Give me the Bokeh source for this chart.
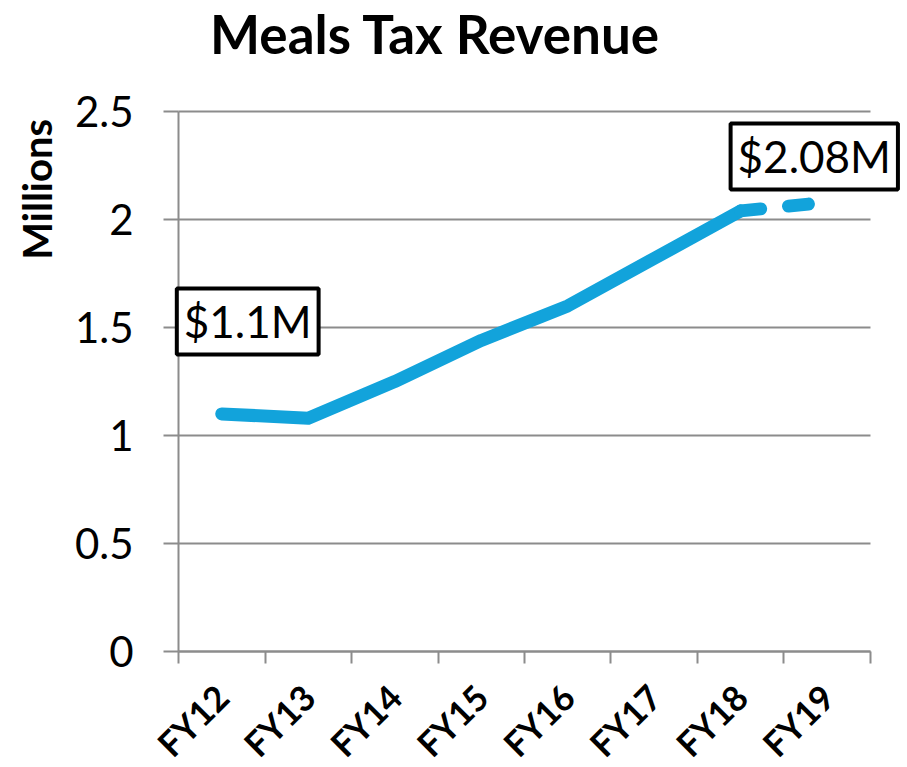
import math
from bokeh.plotting import figure
from bokeh.models import Range1d, FixedTicker, Label, ColumnDataSource
from bokeh.embed import file_html
from bokeh.resources import INLINE

categories = ["FY12", "FY13", "FY14", "FY15", "FY16", "FY17", "FY18", "FY19"]
revenue = [1.10, 1.08, 1.25, 1.44, 1.60, 1.82, 2.04, 2.08]
y_ticks = [0, 0.5, 1, 1.5, 2, 2.5]
y_tick_labels = ["0", "0.5", "1", "1.5", "2", "2.5"]
title_text = "Meals Tax Revenue"
y_label_text = "Millions"
first_note = "$1.1M"
last_note = "$2.08M"

FONT = "Lato"
BLUE = "#12A3DB"
GRAY = "#8C8C8C"

n = len(categories)
ymax = y_ticks[-1]
xpos = [i + 0.5 for i in range(n)]

# frame covers the whole canvas; both axes are fixed at the origin and bounded
p = figure(width=900, height=767, output_backend="svg", toolbar_location=None,
           x_range=Range1d(-2.058, 8.347), y_range=Range1d(-0.537, 3.014),
           min_border_left=0, min_border_right=0, min_border_top=0,
           min_border_bottom=0)
p.outline_line_color = None
p.background_fill_color = "white"
p.border_fill_color = "white"

# horizontal grid lines over the category span
p.segment(x0=[0] * len(y_ticks), x1=[n] * len(y_ticks), y0=y_ticks, y1=y_ticks,
          line_color=GRAY, line_width=2)

# solid part FY12..FY18, dashed part FY18..FY19
solid = ColumnDataSource(dict(x=xpos[:-1], y=revenue[:-1]))
dashed = ColumnDataSource(dict(x=xpos[-2:], y=revenue[-2:]))
p.line("x", "y", source=solid, line_color=BLUE, line_width=13,
       line_cap="round", line_join="round")
p.line("x", "y", source=dashed, line_color=BLUE, line_width=13,
       line_cap="round", line_dash="20 28")

# x axis, fixed at y = 0
xa = p.xaxis[0]
xa.fixed_location = 0
xa.bounds = (0, n)
xa.ticker = FixedTicker(ticks=xpos, minor_ticks=list(range(n + 1)))
xa.major_label_overrides = {float(x): c for x, c in zip(xpos, categories)}
xa.major_tick_out = 0
xa.major_tick_in = 0
xa.minor_tick_out = 12
xa.minor_tick_in = 0
xa.minor_tick_line_color = GRAY
xa.minor_tick_line_width = 2
xa.axis_line_color = GRAY
xa.axis_line_width = 2
xa.major_label_orientation = math.pi / 4
xa.major_label_standoff = 27
xa.major_label_text_font = FONT
xa.major_label_text_font_style = "bold"
xa.major_label_text_font_size = "35px"
xa.major_label_text_color = "black"

# y axis, fixed at x = 0
ya = p.yaxis[0]
ya.fixed_location = 0
ya.bounds = (0, ymax)
ya.ticker = FixedTicker(ticks=y_ticks, minor_ticks=[])
ya.major_label_overrides = {float(t): s for t, s in zip(y_ticks, y_tick_labels)}
ya.major_tick_out = 15
ya.major_tick_in = 0
ya.major_tick_line_color = GRAY
ya.major_tick_line_width = 2
ya.minor_tick_out = 0
ya.minor_tick_in = 0
ya.axis_line_color = GRAY
ya.axis_line_width = 2
ya.major_label_standoff = 30
ya.major_label_text_font = FONT
ya.major_label_text_font_size = "42px"
ya.major_label_text_color = "black"

p.xgrid.grid_line_color = None
p.ygrid.grid_line_color = None

# y label
p.add_layout(Label(x=-1.64, y=2.14, text=y_label_text, text_font=FONT,
                   text_font_style="bold", text_font_size="40px",
                   angle=math.pi / 2, text_align="center",
                   text_baseline="middle", text_color="black"))

# chart title
p.add_layout(Label(x=2.97, y=2.859, text=title_text, text_font=FONT,
                   text_font_style="bold", text_font_size="53px",
                   text_align="center", text_baseline="middle",
                   text_color="black"))

# value notes
p.add_layout(Label(x=0.80, y=1.528, text=first_note, text_font=FONT,
                   text_font_size="44px", text_align="center",
                   text_baseline="middle", text_color="black",
                   border_line_color="black", border_line_width=4,
                   background_fill_color="white", padding=7))
p.add_layout(Label(x=7.35, y=2.292, text=last_note, text_font=FONT,
                   text_font_size="44px", text_align="center",
                   text_baseline="middle", text_color="black",
                   border_line_color="black", border_line_width=4,
                   background_fill_color="white", padding=7))

open("out.html", "w").write(file_html(p, INLINE))
